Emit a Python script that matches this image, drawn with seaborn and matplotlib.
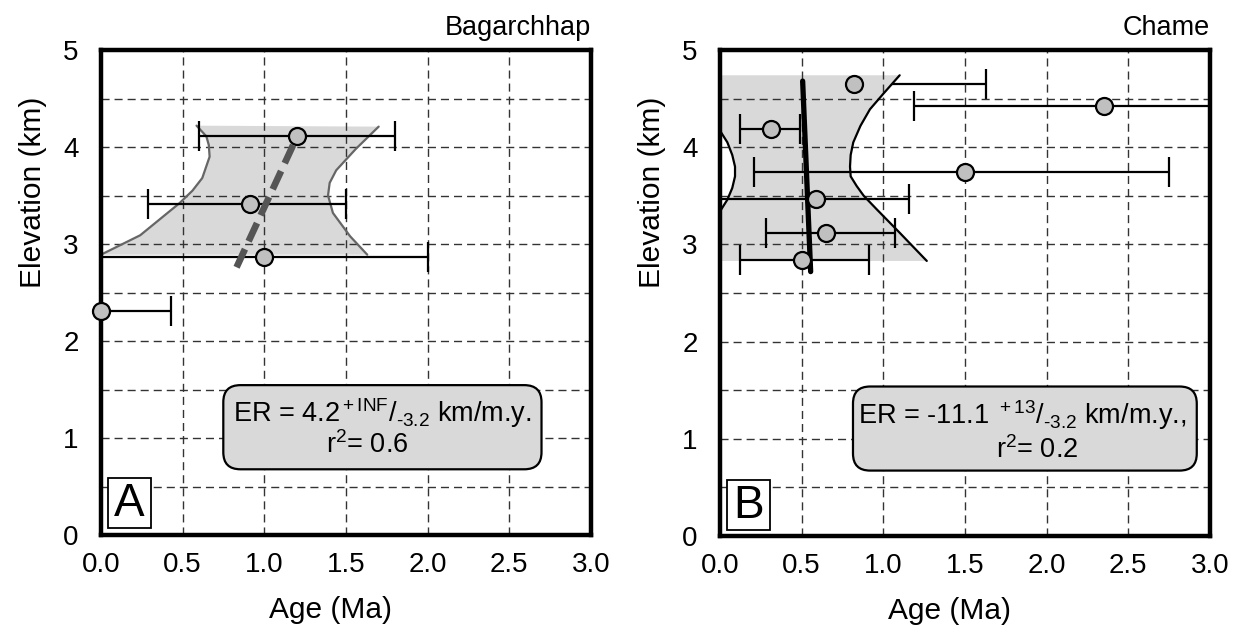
import numpy as np
import pandas as pd
import seaborn as sns
import matplotlib
matplotlib.use("Agg")
import matplotlib.pyplot as plt
from matplotlib.patches import FancyBboxPatch, Rectangle

# ---------------- data ----------------
# Panel A (Bagarchhap)
A_age = [1.20, 0.91, 1.00, 0.00]
A_elev = [4.11, 3.41, 2.87, 2.31]
A_age_lo = [0.60, 0.29, 0.00, 0.00]
A_age_hi = [1.80, 1.50, 2.00, 0.43]
A_fit_age = [0.83, 1.19]
A_fit_elev = [2.76, 4.07]
A_env_left_age = [0.00, 0.24, 0.48, 0.56, 0.62, 0.665, 0.66, 0.645, 0.585]
A_env_left_elev = [2.89, 3.09, 3.42, 3.55, 3.68, 3.90, 4.02, 4.11, 4.22]
A_env_right_age = [1.70, 1.56, 1.44, 1.40, 1.39, 1.42, 1.525, 1.63]
A_env_right_elev = [4.21, 3.98, 3.76, 3.63, 3.50, 3.32, 3.08, 2.89]

# Panel B (Chame)
B_age = [0.82, 2.35, 0.31, 1.50, 0.59, 0.65, 0.50]
B_elev = [4.65, 4.42, 4.19, 3.75, 3.47, 3.12, 2.84]
B_age_lo = [0.00, 1.19, 0.12, 0.21, 0.00, 0.28, 0.12]
B_age_hi = [1.63, 3.60, 0.49, 2.75, 1.155, 1.07, 0.91]
B_fit_age = [0.506, 0.555]
B_fit_elev = [4.68, 2.72]
B_env_right_age = [1.266, 1.10, 0.96, 0.88, 0.837, 0.80, 0.796, 0.80, 0.816, 0.86, 0.918, 1.00, 1.10]
B_env_right_elev = [2.83, 3.12, 3.36, 3.50, 3.60, 3.70, 3.80, 3.92, 4.05, 4.22, 4.39, 4.55, 4.74]
B_env_top = 4.74
B_env_bottom = 2.83
B_env_lens_age = [0.0, 0.045, 0.075, 0.092, 0.092, 0.075, 0.045, 0.0]
B_env_lens_elev = [4.17, 4.05, 3.92, 3.80, 3.70, 3.58, 3.46, 3.34]

x_ticks = [0.0, 0.5, 1.0, 1.5, 2.0, 2.5, 3.0]
x_tick_labels = ["0.0", "0.5", "1.0", "1.5", "2.0", "2.5", "3.0"]
y_ticks = [0, 1, 2, 3, 4, 5]
y_tick_labels = ["0", "1", "2", "3", "4", "5"]

# ---------------- style ----------------
sns.set_theme(style="white")
plt.rcParams["font.family"] = ["Liberation Sans", "DejaVu Sans"]
plt.rcParams["mathtext.fontset"] = "custom"
plt.rcParams["mathtext.rm"] = "Liberation Sans"
plt.rcParams["mathtext.it"] = "Liberation Sans"
plt.rcParams["mathtext.bf"] = "Liberation Sans"

SHADE = "#d9d9d9"
TICK_FS = 20
LABEL_FS = 21.5
TITLE_FS = 19.5
BOX_FS = 19.5

fig = plt.figure(figsize=(12.39, 6.36), dpi=100)
axA = fig.add_axes([101 / 1239, 101 / 636, 490 / 1239, 485 / 636])
axB = fig.add_axes([720 / 1239, 100 / 636, 490 / 1239, 486 / 636])


def base_axes(ax, title):
    ax.set_xlim(0, 3)
    ax.set_ylim(0, 5)
    ax.set_xticks(x_ticks)
    ax.set_xticklabels(x_tick_labels)
    ax.set_yticks(y_ticks)
    ax.set_yticklabels(y_tick_labels)
    ax.set_yticks(np.arange(0.5, 5.0, 1.0), minor=True)
    ax.grid(True, which="both", color="#333333", lw=1.0,
            linestyle=(0, (5.8, 3.6)))
    ax.set_axisbelow(True)
    ax.tick_params(which="both", length=0, colors="black")
    ax.tick_params(axis="both", labelsize=TICK_FS)
    ax.tick_params(axis="x", pad=12)
    ax.tick_params(axis="y", pad=16)
    for s in ax.spines.values():
        s.set_visible(True)
        s.set_color("black")
        s.set_linewidth(3.2)
    ax.set_xlabel("Age (Ma)", fontsize=LABEL_FS, labelpad=13, color="black")
    ax.set_ylabel("Elevation (km)", fontsize=LABEL_FS, labelpad=12, color="black")
    ax.xaxis.label.set_x(0.468)
    ax.yaxis.label.set_y(0.707)
    ax.set_title(title, loc="right", fontsize=TITLE_FS, pad=11, color="black")


def errbars(ax, age, elev, lo, hi, z=3):
    age = np.asarray(age)
    ax.errorbar(age, elev, xerr=[age - np.asarray(lo), np.asarray(hi) - age],
                fmt="none", ecolor="black", elinewidth=1.6, capsize=11,
                capthick=1.6, zorder=z)


# ---------------- Panel A ----------------
base_axes(axA, "Bagarchhap")
envA_x = A_env_left_age + A_env_right_age
envA_y = A_env_left_elev + A_env_right_elev
axA.fill(envA_x, envA_y, color=SHADE, lw=0, zorder=0.3)
axA.plot(A_env_left_age, A_env_left_elev, color="#666666", lw=1.6, zorder=0.6)
axA.plot(A_env_right_age, A_env_right_elev, color="#666666", lw=1.6, zorder=0.6)
errbars(axA, A_age, A_elev, A_age_lo, A_age_hi)
sns.lineplot(x=A_fit_age, y=A_fit_elev, ax=axA, sort=False, color="#555555",
             lw=4.8, linestyle=(0, (3.0, 1.3)), dash_capstyle="butt", zorder=4)
sns.scatterplot(x=A_age, y=A_elev, ax=axA, s=150, color="#c0c0c0",
                edgecolor="black", linewidth=1.6, zorder=6, clip_on=False)

# ---------------- Panel B ----------------
base_axes(axB, "Chame")
envB_x = [0.0] + B_env_right_age + [0.0] + B_env_lens_age
envB_y = [B_env_bottom] + B_env_right_elev + [B_env_top] + B_env_lens_elev
axB.fill(envB_x, envB_y, color=SHADE, lw=0, zorder=0.3)
axB.plot(B_env_right_age, B_env_right_elev, color="black", lw=1.6, zorder=0.6)
axB.plot(B_env_lens_age, B_env_lens_elev, color="black", lw=1.6, zorder=0.6)
# first point's bar lies beneath the envelope
errbars(axB, B_age[:1], B_elev[:1], B_age_lo[:1], B_age_hi[:1], z=0.2)
errbars(axB, B_age[1:], B_elev[1:], B_age_lo[1:], B_age_hi[1:])
sns.lineplot(x=B_fit_age, y=B_fit_elev, ax=axB, sort=False, color="black",
             lw=3.8, zorder=4)
sns.scatterplot(x=B_age, y=B_elev, ax=axB, s=150, color="#c0c0c0",
                edgecolor="black", linewidth=1.6, zorder=6)

# ---------------- annotation boxes ----------------
HY = "\u2010"


def er_box(ax, box, line1, p1, line2, p2):
    x0, y0, x1, y1 = box
    patch = FancyBboxPatch((x0, y0), x1 - x0, y1 - y0,
                           boxstyle="round,pad=0,rounding_size=0.035",
                           transform=ax.transAxes, fc=SHADE, ec="black",
                           lw=1.6, zorder=7, mutation_aspect=1.0)
    ax.add_patch(patch)
    ax.text(p1[0], p1[1], line1, transform=ax.transAxes, ha="center",
            va="center", fontsize=BOX_FS, zorder=8, color="black")
    ax.text(p2[0], p2[1], line2, transform=ax.transAxes, ha="center",
            va="center", fontsize=BOX_FS, zorder=8, color="black")


er_box(axA, (0.2496, 0.1355, 0.899, 0.309),
       "ER = 4.2$^{\\rm +INF}$/$_{\\rm " + HY + "3.2}$ km/m.y.", (0.5735, 0.2515),
       r"r$^{\rm 2}$= 0.6", (0.544, 0.1856))
er_box(axB, (0.2714, 0.1346, 0.973, 0.3076),
       "ER = -11.1 $^{\\rm +13}$/$_{\\rm " + HY + "3.2}$ km/m.y.,", (0.6173, 0.2493),
       r"r$^{\rm 2}$= 0.2", (0.6463, 0.177))


def panel_label(ax, letter, x0, y0):
    ax.add_patch(Rectangle((x0, y0), 0.088, 0.102, transform=ax.transAxes,
                           fc="white", ec="black", lw=1.3, zorder=7))
    ax.text(x0 + 0.044, y0 + 0.049, letter, transform=ax.transAxes,
            ha="center", va="center", fontsize=33, zorder=8, color="black")


panel_label(axA, "A", 0.0137, 0.015)
panel_label(axB, "B", 0.0149, 0.0124)

fig.savefig("out.png", dpi=100)
